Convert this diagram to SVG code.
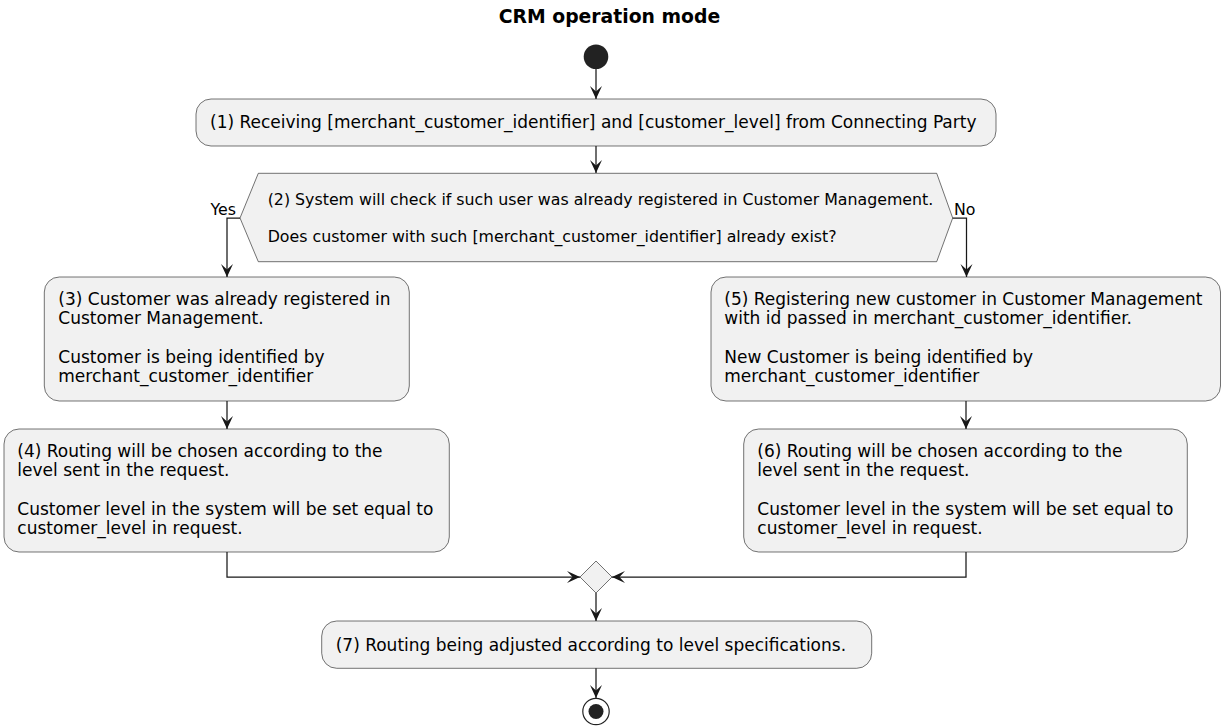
<svg xmlns="http://www.w3.org/2000/svg" width="1225" height="727" viewBox="0 0 1225 727">
<style>
.box{fill:#F1F1F1;stroke:#181818;stroke-width:0.6}
.t{font-family:"DejaVu Sans",sans-serif;font-size:17px;fill:#000}
.d{font-family:"DejaVu Sans",sans-serif;font-size:15.8px;fill:#000}
.ttl{font-family:"DejaVu Sans",sans-serif;font-size:18.8px;font-weight:bold;fill:#000}
.ln{fill:none;stroke:#181818;stroke-width:1.25}
</style>
<defs>
<marker id="ah" markerUnits="userSpaceOnUse" markerWidth="16" markerHeight="16" viewBox="-14 -8 15 16" refX="0" refY="0" orient="auto">
<path d="M0,0 L-13,-6 L-7.5,0 L-13,6 Z" fill="#181818"/>
</marker>
</defs>
<rect width="1225" height="727" fill="#FFFFFF"/>
<text class="ttl" x="609.5" y="23" text-anchor="middle">CRM operation mode</text>

<g id="connectors">
<line class="ln" x1="596" y1="69" x2="596" y2="99" marker-end="url(#ah)"/>
<line class="ln" x1="596" y1="146" x2="596" y2="173" marker-end="url(#ah)"/>
<polyline class="ln" points="240,218 227,218 227,277" marker-end="url(#ah)"/>
<polyline class="ln" points="952.7,218 966.5,218 966.5,277" marker-end="url(#ah)"/>
<line class="ln" x1="227" y1="401" x2="227" y2="429" marker-end="url(#ah)"/>
<line class="ln" x1="966" y1="401" x2="966" y2="429" marker-end="url(#ah)"/>
<polyline class="ln" points="227,552 227,577 580,577" marker-end="url(#ah)"/>
<polyline class="ln" points="966,552 966,577 612,577" marker-end="url(#ah)"/>
<line class="ln" x1="596" y1="593" x2="596" y2="621" marker-end="url(#ah)"/>
<line class="ln" x1="596" y1="668" x2="596" y2="698" marker-end="url(#ah)"/>
<text class="d" x="210.5" y="214.5">Yes</text>
<text class="d" x="954" y="214.5">No</text>
</g>

<g id="start">
<circle cx="596" cy="56.7" r="12.3" fill="#222222"/>
</g>

<g id="n1">
<rect class="box" x="196" y="99" width="800" height="47" rx="15" ry="15"/>
<text class="t" x="210" y="128">(1) Receiving [merchant_customer_identifier] and [customer_level] from Connecting Party</text>
</g>

<g id="n2">
<polygon class="box" points="258.3,173.3 936.7,173.3 952.7,218 936.7,261.7 258.3,261.7 240,218"/>
<text class="d" x="267.7" y="205.3">(2) System will check if such user was already registered in Customer Management.</text>
<text class="d" x="267.7" y="242">Does customer with such [merchant_customer_identifier] already exist?</text>
</g>

<g id="n3">
<rect class="box" x="44.3" y="277" width="365" height="124" rx="15" ry="15"/>
<text class="t" x="58.3" y="304.5">(3) Customer was already registered in</text>
<text class="t" x="58.3" y="324">Customer Management.</text>
<text class="t" x="58.3" y="363">Customer is being identified by</text>
<text class="t" x="58.3" y="382.4">merchant_customer_identifier</text>
</g>

<g id="n4">
<rect class="box" x="4" y="429" width="445.3" height="123" rx="15" ry="15"/>
<text class="t" x="17.3" y="457.2">(4) Routing will be chosen according to the</text>
<text class="t" x="17.3" y="476.4">level sent in the request.</text>
<text class="t" x="17.3" y="515">Customer level in the system will be set equal to</text>
<text class="t" x="17.3" y="534.3">customer_level in request.</text>
</g>

<g id="n5">
<rect class="box" x="711" y="277" width="509.5" height="124" rx="15" ry="15"/>
<text class="t" x="724.3" y="304.5">(5) Registering new customer in Customer Management</text>
<text class="t" x="724.3" y="324">with id passed in merchant_customer_identifier.</text>
<text class="t" x="724.3" y="363">New Customer is being identified by</text>
<text class="t" x="724.3" y="382.4">merchant_customer_identifier</text>
</g>

<g id="n6">
<rect class="box" x="743.7" y="429" width="443.6" height="123" rx="15" ry="15"/>
<text class="t" x="757.3" y="457.2">(6) Routing will be chosen according to the</text>
<text class="t" x="757.3" y="476.4">level sent in the request.</text>
<text class="t" x="757.3" y="515">Customer level in the system will be set equal to</text>
<text class="t" x="757.3" y="534.3">customer_level in request.</text>
</g>

<g id="merge">
<polygon class="box" points="596,561 612,577 596,593 580,577"/>
</g>

<g id="n7">
<rect class="box" x="321.7" y="621" width="550" height="47.3" rx="15" ry="15"/>
<text class="t" x="335.7" y="651.2">(7) Routing being adjusted according to level specifications.</text>
</g>

<g id="end">
<circle cx="596" cy="711.5" r="13.2" fill="none" stroke="#222222" stroke-width="1.2"/>
<circle cx="596" cy="711.5" r="7.5" fill="#222222"/>
</g>
</svg>
